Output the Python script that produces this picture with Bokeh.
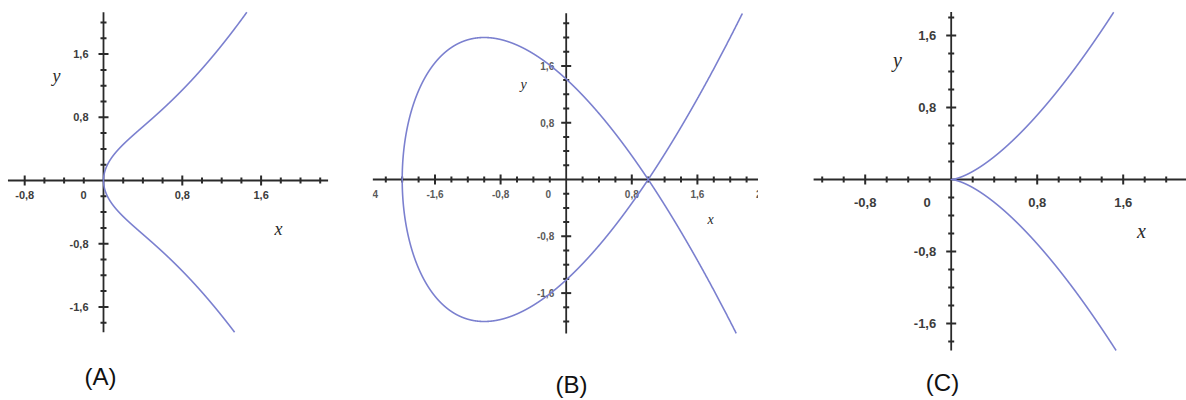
import numpy as np
from bokeh.plotting import figure
from bokeh.layouts import row
from bokeh.models import Range1d
from bokeh.core.properties import value
from bokeh.embed import file_html
from bokeh.resources import INLINE

# Three cubic curves y^2 = x^3 + a*x + b
panel_captions = ["(A)", "(B)", "(C)"]
cubic_a = [1.0, -3.0, 0.0]
cubic_b = [0.0, 2.0, 0.0]

# visible extent of the drawn axes (data units)
x_axis_min = [-0.97, -2.36, -1.28]
x_axis_max = [2.28, 2.35, 2.19]
y_axis_min = [-1.92, -2.17, -1.90]
y_axis_max = [2.13, 2.34, 1.86]

# labelled ticks
x_label_values = [
    [-0.8, 0.8, 1.6],
    [-2.4, -1.6, -0.8, 0.8, 1.6, 2.4],
    [-0.8, 0.8, 1.6],
]
y_label_values = [
    [-1.6, -0.8, 0.8, 1.6],
    [-1.6, -0.8, 0.8, 1.6],
    [-1.6, -0.8, 0.8, 1.6],
]
minor_step = 0.2
major_step = 0.8

# pixel layout of each panel: frame span, origin, scale, text placement
LAYOUT = [
    dict(left=0, right=372, ox=103.0, oy=180.0, sx=98.5, sy=79.0,
         tick_font="11px", tick_color="#3c3c3c", xl_dy=14, yl_dx=-15, zero_dx=-20,
         lab_font="18px", ylab=(56, 75), xlab=(278, 228), cap=(100, 376)),
    dict(left=372, right=758, ox=565.7, oy=179.0, sx=82.0, sy=71.0,
         tick_font="10px", tick_color="#5a5a5a", xl_dy=14, yl_dx=-12, zero_dx=-18,
         lab_font="14px", ylab=(523, 84), xlab=(710, 219), cap=(571, 384)),
    dict(left=758, right=1186, ox=950.7, oy=179.0, sx=107.5, sy=90.0,
         tick_font="13px", tick_color="#3c3c3c", xl_dy=23, yl_dx=-15, zero_dx=-24,
         lab_font="20px", ylab=(897, 59), xlab=(1141, 230), cap=(942, 382)),
]

CURVE_COLOR = "#7b80cf"
AXIS_COLOR = "#2a2a2a"
H = 400


def fmt(v):
    return f"{v:.1f}".replace(".", ",")


def cubic_path(a, b, ylo, yhi):
    roots = np.roots([1.0, 0.0, a, b])
    real = roots[np.abs(roots.imag) < 1e-6].real
    x0 = real.min()
    u = np.linspace(0.0, np.sqrt(6.0), 6000)
    x = x0 + u ** 2
    f = x ** 3 + a * x + b
    y = np.sqrt(np.clip(f, 0.0, None))
    xs = np.concatenate([x[::-1], x[1:]])
    ys = np.concatenate([y[::-1], -y[1:]])
    keep = (ys >= ylo) & (ys <= yhi)
    return xs[keep], ys[keep]


def ticks_between(lo, hi, step):
    k0 = int(np.ceil(lo / step - 1e-9))
    k1 = int(np.floor(hi / step + 1e-9))
    t = np.array([k * step for k in range(k0, k1 + 1)])
    return t[np.abs(t) > 1e-9]


figs = []
for i, L in enumerate(LAYOUT):
    w = L["right"] - L["left"]
    px2x = lambda px, L=L: (px - L["ox"]) / L["sx"]
    py2y = lambda py, L=L: (L["oy"] - py) / L["sy"]

    p = figure(width=w, height=H,
               x_range=Range1d(px2x(L["left"]), px2x(L["right"])),
               y_range=Range1d(py2y(H), py2y(0)),
               output_backend="svg", toolbar_location=None,
               x_axis_location=None, y_axis_location=None,
               min_border=0, outline_line_color=None,
               background_fill_color="white", border_fill_color="white")
    p.grid.visible = False

    # axes
    p.segment(x0=[x_axis_min[i], 0.0], y0=[0.0, y_axis_min[i]],
              x1=[x_axis_max[i], 0.0], y1=[0.0, y_axis_max[i]],
              line_color=AXIS_COLOR, line_width=1.8)

    # tick marks on both axes
    xt_all = ticks_between(x_axis_min[i], x_axis_max[i], minor_step)
    yt_all = ticks_between(y_axis_min[i], y_axis_max[i], minor_step)
    is_major = lambda t: np.abs(t / major_step - np.round(t / major_step)) < 1e-6
    for sel, size in ((lambda t: ~is_major(t), 6), (lambda t: is_major(t), 10)):
        xt = xt_all[sel(xt_all)]
        yt = yt_all[sel(yt_all)]
        p.scatter(xt, np.zeros_like(xt), marker="dash", size=size, angle=np.pi / 2,
                  line_color=AXIS_COLOR, line_width=2)
        p.scatter(np.zeros_like(yt), yt, marker="dash", size=size,
                  line_color=AXIS_COLOR, line_width=2)

    # tick labels
    xv = x_label_values[i]
    p.text(x=xv, y=[0.0] * len(xv), text=[fmt(v) for v in xv],
           y_offset=L["xl_dy"], text_align="center", text_baseline="middle",
           text_font=value("Liberation Sans"), text_font_style="bold",
           text_font_size=L["tick_font"], text_color=L["tick_color"])
    p.text(x=[0.0], y=[0.0], text=["0"], x_offset=L["zero_dx"], y_offset=L["xl_dy"],
           text_align="center", text_baseline="middle",
           text_font=value("Liberation Sans"), text_font_style="bold",
           text_font_size=L["tick_font"], text_color=L["tick_color"])
    yv = y_label_values[i]
    p.text(x=[0.0] * len(yv), y=yv, text=[fmt(v) for v in yv],
           x_offset=L["yl_dx"], text_align="right", text_baseline="middle",
           text_font=value("Liberation Sans"), text_font_style="bold",
           text_font_size=L["tick_font"], text_color=L["tick_color"])

    # axis names
    p.text(x=[px2x(L["ylab"][0]), px2x(L["xlab"][0])],
           y=[py2y(L["ylab"][1]), py2y(L["xlab"][1])], text=["y", "x"],
           text_align="center", text_baseline="middle",
           text_font=value("Liberation Serif"), text_font_style="italic",
           text_font_size=L["lab_font"], text_color="#2a2a2a")

    # the curve
    cx, cy = cubic_path(cubic_a[i], cubic_b[i], y_axis_min[i], y_axis_max[i])
    p.line(cx, cy, line_color=CURVE_COLOR, line_width=1.6, line_join="round")

    # caption
    p.text(x=[px2x(L["cap"][0])], y=[py2y(L["cap"][1])], text=[panel_captions[i]],
           text_align="center", text_baseline="middle",
           text_font=value("Liberation Sans"), text_font_size="24px",
           text_color="#111111")

    figs.append(p)

layout = row(*figs, spacing=0)
open("out.html", "w").write(file_html(layout, INLINE))
